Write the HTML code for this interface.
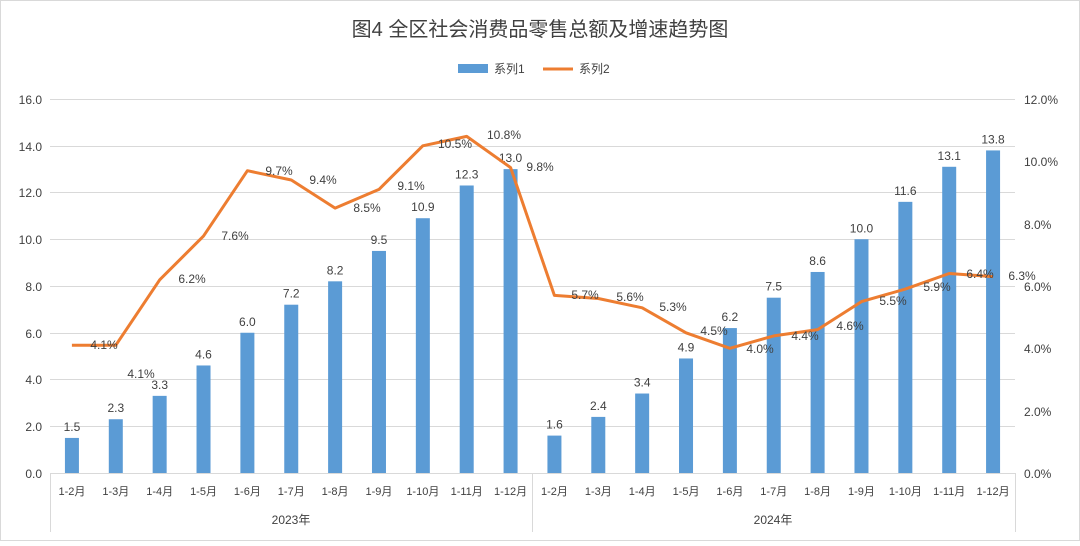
<!DOCTYPE html>
<html><head><meta charset="utf-8"><style>
body{margin:0;background:#fff}
text{font-family:"Liberation Sans","Noto Sans CJK SC",sans-serif;fill:#404040}
</style></head><body>
<svg width="1080" height="541" xmlns="http://www.w3.org/2000/svg">
<rect x="0.5" y="0.5" width="1079" height="540" fill="#fff" stroke="#d9d9d9"/>
<text x="540" y="36" font-size="20" text-anchor="middle" fill="#404040">图4  全区社会消费品零售总额及增速趋势图</text>
<rect x="458" y="64" width="30" height="9" fill="#5b9bd5"/>
<text x="494" y="73" font-size="12">系列1</text>
<line x1="543" y1="69" x2="573" y2="69" stroke="#ed7d31" stroke-width="3"/>
<text x="579" y="73" font-size="12">系列2</text>
<g stroke="#d9d9d9" stroke-width="1">
<line x1="50" y1="99.5" x2="1015" y2="99.5"/><line x1="50" y1="146.5" x2="1015" y2="146.5"/>
<line x1="50" y1="192.5" x2="1015" y2="192.5"/><line x1="50" y1="239.5" x2="1015" y2="239.5"/>
<line x1="50" y1="286.5" x2="1015" y2="286.5"/><line x1="50" y1="333.5" x2="1015" y2="333.5"/>
<line x1="50" y1="379.5" x2="1015" y2="379.5"/><line x1="50" y1="426.5" x2="1015" y2="426.5"/>
<line x1="50" y1="473.5" x2="1015" y2="473.5"/>
<line x1="50.5" y1="473" x2="50.5" y2="532"/><line x1="532.5" y1="473" x2="532.5" y2="532"/><line x1="1015.5" y1="473" x2="1015.5" y2="532"/>
</g>
<g font-size="12" text-anchor="end">
<text x="42" y="104">16.0</text><text x="42" y="151">14.0</text><text x="42" y="197">12.0</text><text x="42" y="244">10.0</text><text x="42" y="291">8.0</text><text x="42" y="338">6.0</text><text x="42" y="384">4.0</text><text x="42" y="431">2.0</text><text x="42" y="478">0.0</text>
</g>
<g font-size="12" text-anchor="start">
<text x="1024" y="104">12.0%</text><text x="1024" y="166">10.0%</text><text x="1024" y="229">8.0%</text><text x="1024" y="291">6.0%</text><text x="1024" y="353">4.0%</text><text x="1024" y="416">2.0%</text><text x="1024" y="478">0.0%</text>
</g>
<g id="bars" fill="#5b9bd5"></g>
<g id="blab" font-size="12" text-anchor="middle"></g>
<g id="xl" font-size="11" text-anchor="middle"></g>
<polyline id="ln" fill="none" stroke="#ed7d31" stroke-width="3" stroke-linejoin="round"/>
<g id="llab" font-size="12" text-anchor="middle"></g>
<text x="291" y="524" font-size="12" text-anchor="middle">2023年</text>
<text x="773" y="524" font-size="12" text-anchor="middle">2024年</text>
</svg>
<script>
var ns="http://www.w3.org/2000/svg";
var b=[1.5,2.3,3.3,4.6,6.0,7.2,8.2,9.5,10.9,12.3,13.0,1.6,2.4,3.4,4.9,6.2,7.5,8.6,10.0,11.6,13.1,13.8];
var r=[4.1,4.1,6.2,7.6,9.7,9.4,8.5,9.1,10.5,10.8,9.8,5.7,5.6,5.3,4.5,4.0,4.4,4.6,5.5,5.9,6.4,6.3];
var cats=["1-2月","1-3月","1-4月","1-5月","1-6月","1-7月","1-8月","1-9月","1-10月","1-11月","1-12月"];
var lp=[[104,345],[141,374],[192,279],[235,236],[279,171],[323,180],[367,208],[411,186],[455,144],[504,135],[540,167],[585,295],[630,297],[673,307],[714,331],[760,349],[805,336],[850,326],[893,301],[937,287],[980,274],[1022,276]];
var w=965/22,pts=[];
function el(t,a,p,txt){var e=document.createElementNS(ns,t);for(var k in a)e.setAttribute(k,a[k]);if(txt)e.textContent=txt;document.getElementById(p).appendChild(e);}
for(var i=0;i<22;i++){var cx=50+w*(i+0.5),h=b[i]*23.375;
el("rect",{x:cx-7,y:473-h,width:14,height:h},"bars");
el("text",{x:cx,y:473-h-7},"blab",b[i].toFixed(1));
el("text",{x:cx,y:495},"xl",cats[i%11]);
pts.push(cx.toFixed(1)+","+(473-r[i]/12*374).toFixed(1));
el("text",{x:lp[i][0],y:lp[i][1]+4},"llab",r[i].toFixed(1)+"%");}
document.getElementById("ln").setAttribute("points",pts.join(" "));
</script>
</body></html>
